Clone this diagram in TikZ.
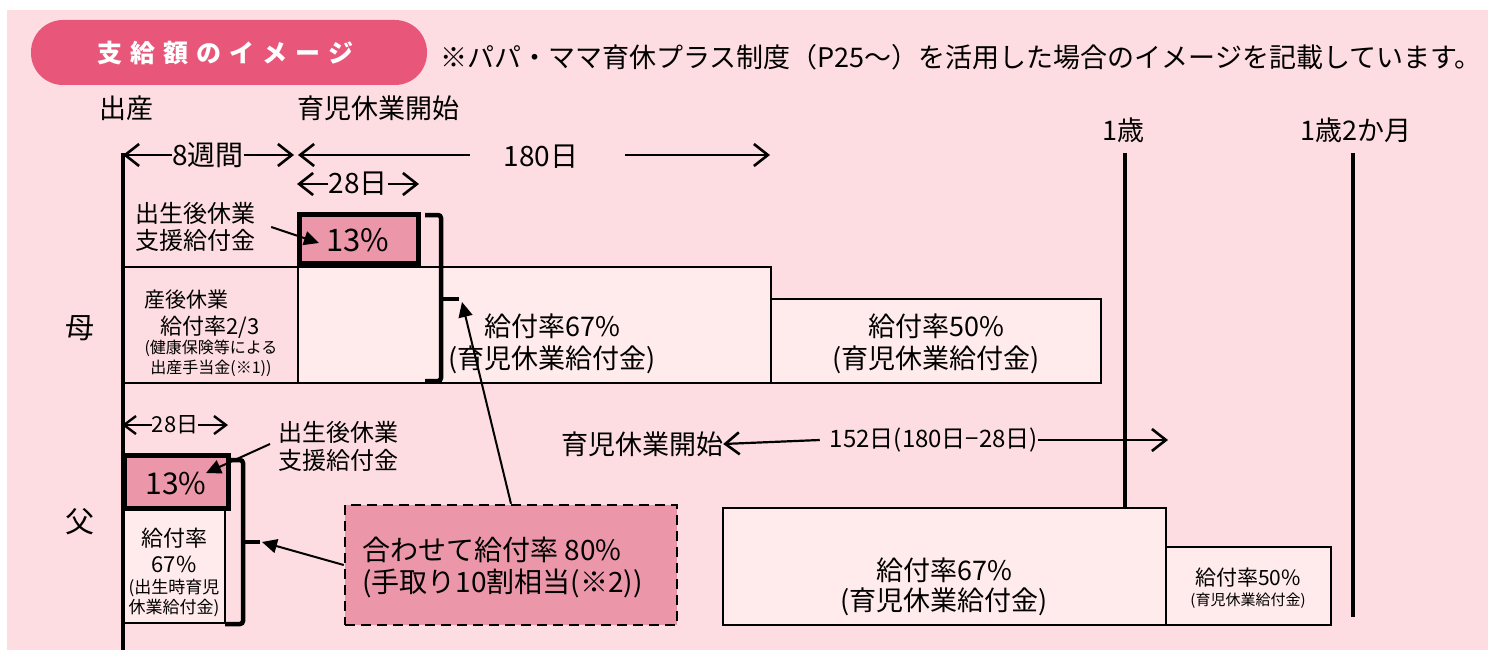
\documentclass[tikz,border=0pt]{standalone}
\usepackage{fontspec}
\setmainfont{Noto Sans CJK JP}
\usetikzlibrary{arrows.meta}
\definecolor{bgpink}{RGB}{253,221,225}
\definecolor{pillpink}{RGB}{232,87,122}
\definecolor{ratepink}{RGB}{235,150,169}
\definecolor{boxlite}{RGB}{255,235,236}
\newcommand\fsz[2]{\fontsize{#1pt}{#2pt}\selectfont}
\tikzset{
  lbl/.style={inner sep=0pt,align=center},
  bar/.style={draw=black,line width=2.5pt},
  lite/.style={bar,fill=boxlite},
  rate/.style={draw=black,line width=5pt,fill=ratepink},
  tick/.style={line width=3.5pt},
  brace/.style={line width=4.5pt,rounded corners=3pt},
  span/.style={line width=2.2pt,-{Straight Barb[length=14pt,width=22pt,line width=2.6pt]}},
  smallspan/.style={line width=2pt,-{Straight Barb[length=12pt,width=18pt,line width=2.4pt]}},
  ptr/.style={line width=2pt,-{Triangle[length=15pt,width=14pt]}},
  sumbox/.style={draw=black,fill=ratepink,line width=2.5pt,dash pattern=on 10pt off 6pt},
}
\begin{document}
\begin{tikzpicture}[x=1pt,y=-1pt]
\useasboundingbox (0,0) rectangle (1488,650);
\fill[bgpink] (7,10) rectangle (1488,650);

% title and note
\fill[pillpink,rounded corners=32pt] (31,20) rectangle (427,85);
\node[lbl,text=white,font=\fsz{25}{30}\bfseries] (title) at (225,53)
  {支\hspace{8pt}給\hspace{8pt}額\hspace{8pt}の\hspace{8pt}イ\hspace{8pt}メ\hspace{8pt}ー\hspace{8pt}ジ};
\node[lbl,anchor=west,font=\fsz{27}{30}] (note) at (440,57)
  {※パパ・ママ育休プラス制度（P25～）を活用した場合のイメージを記載しています。};

% time marks
\node[lbl,font=\fsz{27}{30}] (birth) at (126,108) {出産};
\node[lbl,font=\fsz{27}{30}] (leave) at (378,108) {育児休業開始};
\node[lbl,font=\fsz{27}{30}] (age1) at (1123,130) {1歳};
\node[lbl,font=\fsz{27}{30}] (age1m2) at (1356,130) {1歳2か月};
\draw[tick] (1125,153) -- (1125,508);
\draw[tick] (1353,153) -- (1353,617);

% spans on top
\coordinate (s0) at (123,155);
\coordinate (s1) at (294,155);
\coordinate (s2) at (298,155);
\coordinate (s2b) at (470,155);
\coordinate (s3a) at (625,155);
\coordinate (s3) at (770,155);
\node[lbl,font=\fsz{28}{30}] (w8) at (208,155) {8週間};
\draw[span] (w8.west) -- (s0);
\draw[span] (w8.east) -- (s1);
\node[lbl,font=\fsz{28}{30}] (d180) at (541,157) {180日};
\draw[span] (s2b) -- (s2);
\draw[span] (s3a) -- (s3);
\node[lbl,font=\fsz{28}{30}] (m28) at (358,184) {28日};
\draw[span] (m28.west) -- (297,184);
\draw[span] (m28.east) -- (419,184);

% mother
\node[lbl,font=\fsz{29}{30}] (mom) at (80,328) {母};
\draw[bar,fill=bgpink] (123,267) rectangle (298,383);
\draw[lite] (298,267) rectangle (771,383);
\draw[lite] (771,299) rectangle (1101,383);
\draw[rate] (299,214.5) rectangle (418,263);
\node[lbl,font=\fsz{31}{32}] (mrate) at (358,240) {13\%};
\node[lbl,font=\fsz{24}{27}] (msupp) at (195,227) {出生後休業\\支援給付金};
\coordinate (mtip) at (319,243);
\draw[ptr] (msupp.east) ++(16,0) -- (mtip);
\node[lbl,font=\fsz{21}{24}] (mpost) at (186,300) {産後休業};
\node[lbl,font=\fsz{22}{24}] (mpost2) at (210,327) {給付率2/3};
\node[lbl,font=\fsz{16}{20}] (mpost3) at (211,358) {(健康保険等による\\出産手当金(※1))};
\node[lbl,font=\fsz{27}{32}] (m67) at (552,344) {給付率67\%\\(育児休業給付金)};
\node[lbl,font=\fsz{27}{32}] (m50) at (936,344) {給付率50\%\\(育児休業給付金)};
\draw[brace] (425,215) -- (441,215) -- (441,381) -- (425,381);
\draw[brace] (441,299) -- (459,299);
\coordinate (mtick) at (462,302);

% father
\node[lbl,font=\fsz{29}{30}] (dad) at (80,522) {父};
\node[lbl,font=\fsz{22}{24}] (f28) at (175,425) {28日};
\draw[smallspan] (f28.west) -- (122,425);
\draw[smallspan] (f28.east) -- (228,425);
\draw[lite] (123,508) rectangle (225,623);
\draw[rate] (124,455) rectangle (228,508);
\node[lbl,font=\fsz{30}{30}] (frate) at (176,484) {13\%};
\node[lbl,font=\fsz{24}{28}] (fsupp) at (338,446) {出生後休業\\支援給付金};
\coordinate (ftip) at (206,473);
\draw[ptr] (270,444) -- (ftip);
\node[lbl,font=\fsz{22}{26}] (f67) at (174,550) {給付率\\67\%};
\node[lbl,font=\fsz{17}{20}] (f67b) at (174,598) {(出生時育児\\休業給付金)};
\draw[brace] (230,460) -- (243,460) -- (243,624) -- (225,624);
\draw[brace] (243,542) -- (260,542);
\coordinate (ftick) at (262,542);

\node[sumbox,minimum width=332pt,minimum height=120pt] (sum) at (511,565) {};
\node[lbl,align=left,anchor=west,font=\fsz{28}{32}] (sumtxt) at (362,567)
  {合わせて給付率 80\%\\(手取り10割相当(※2))};
\draw[ptr] (sum.west) -- (ftick);
\draw[ptr] (sum.north) -- (mtick);

\node[lbl,font=\fsz{27}{30}] (fstart) at (642,444) {育児休業開始};
\node[lbl,font=\fsz{24}{26}] (d152) at (934,440) {152日(180日−28日)};
\coordinate (f152r) at (1168,440);
\draw[span] ([xshift=-10pt]d152.west) -- (fstart.east);
\draw[span] (d152.east) -- (f152r);
\draw[lite] (723,508) rectangle (1166,625);
\draw[lite] (1166,547) rectangle (1331,625);
\node[lbl,font=\fsz{27}{30}] (f67big) at (944,587) {給付率67\%\\(育児休業給付金)};
\node[lbl,font=\fsz{21}{24}] (f50) at (1248,578) {給付率50\%};
\node[lbl,font=\fsz{15}{18}] (f50b) at (1248,601) {(育児休業給付金)};

% time line of birth
\draw[tick] (123,153) -- (123,650);
\end{tikzpicture}
\end{document}
